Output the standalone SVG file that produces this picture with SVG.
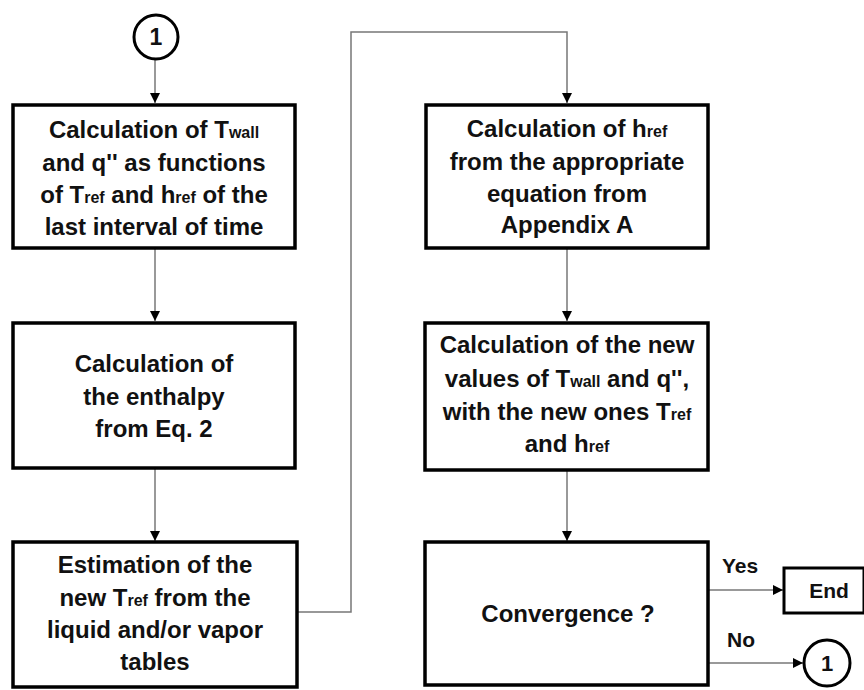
<svg xmlns="http://www.w3.org/2000/svg" width="864" height="690" viewBox="0 0 864 690">
<style>
.box{fill:#fff;stroke:#000;stroke-width:3.5}
.circ{fill:#fff;stroke:#000;stroke-width:3}
.t{font-family:"Liberation Sans",Arial,sans-serif;font-weight:bold;font-size:24px;fill:#111;text-anchor:middle}
.s{font-size:16px}
.lbl{font-family:"Liberation Sans",Arial,sans-serif;font-weight:bold;font-size:21px;fill:#111}
.c{fill:none;stroke:#777;stroke-width:1.5}
</style>
<defs>
<marker id="ah" viewBox="0 0 10 10" refX="10" refY="5" markerWidth="11" markerHeight="10" markerUnits="userSpaceOnUse" orient="auto">
<path d="M0,0 L10,5 L0,10 z" fill="#000"/>
</marker>
</defs>
<g id="connectors">
<line class="c" x1="155" y1="60" x2="155" y2="103" marker-end="url(#ah)"/>
<line class="c" x1="155" y1="248" x2="155" y2="321" marker-end="url(#ah)"/>
<line class="c" x1="155" y1="468" x2="155" y2="541" marker-end="url(#ah)"/>
<polyline class="c" points="297,612 351,612 351,32 567,32 567,103" marker-end="url(#ah)"/>
<line class="c" x1="567" y1="248" x2="567" y2="321" marker-end="url(#ah)"/>
<line class="c" x1="567" y1="470" x2="567" y2="541" marker-end="url(#ah)"/>
<line class="c" x1="708" y1="590" x2="783" y2="590" marker-end="url(#ah)"/>
<line class="c" x1="708" y1="663" x2="803" y2="663" marker-end="url(#ah)"/>
<text class="lbl" x="722" y="573">Yes</text>
<text class="lbl" x="727" y="647">No</text>
</g>
<g id="start">
<circle class="circ" cx="156" cy="37" r="22"/>
<text class="t" x="156" y="45" style="font-size:23px">1</text>
</g>
<g id="box1">
<rect class="box" x="13" y="105" width="282" height="143"/>
<text class="t" x="154" y="138">Calculation of T<tspan class="s">wall</tspan></text>
<text class="t" x="154" y="171">and q'' as functions</text>
<text class="t" x="154" y="203">of T<tspan class="s">ref</tspan> and h<tspan class="s">ref</tspan> of the</text>
<text class="t" x="154" y="235">last interval of time</text>
</g>
<g id="box2">
<rect class="box" x="13" y="323" width="282" height="145"/>
<text class="t" x="154" y="372">Calculation of</text>
<text class="t" x="154" y="405">the enthalpy</text>
<text class="t" x="154" y="437">from Eq. 2</text>
</g>
<g id="box3">
<rect class="box" x="13" y="542" width="284" height="145"/>
<text class="t" x="155" y="573">Estimation of the</text>
<text class="t" x="155" y="606">new T<tspan class="s">ref</tspan> from the</text>
<text class="t" x="155" y="638">liquid and/or vapor</text>
<text class="t" x="155" y="670">tables</text>
</g>
<g id="box4">
<rect class="box" x="426" y="105" width="282" height="143"/>
<text class="t" x="567" y="137">Calculation of h<tspan class="s">ref</tspan></text>
<text class="t" x="567" y="170">from the appropriate</text>
<text class="t" x="567" y="202">equation from</text>
<text class="t" x="567" y="233">Appendix A</text>
</g>
<g id="box5">
<rect class="box" x="425" y="323" width="283" height="147"/>
<text class="t" x="567" y="353">Calculation of the new</text>
<text class="t" x="567" y="387">values of T<tspan class="s">wall</tspan> and q'',</text>
<text class="t" x="567" y="420">with the new ones T<tspan class="s">ref</tspan></text>
<text class="t" x="567" y="452">and h<tspan class="s">ref</tspan></text>
</g>
<g id="box6">
<rect class="box" x="425" y="542" width="283" height="143"/>
<text class="t" x="568" y="622">Convergence ?</text>
</g>
<g id="end">
<rect class="box" x="784" y="568" width="80" height="45" style="stroke-width:3"/>
<text class="lbl" x="829" y="598" text-anchor="middle">End</text>
</g>
<g id="loop">
<circle class="circ" cx="827" cy="663" r="23"/>
<text class="t" x="827" y="671" style="font-size:22px">1</text>
</g>
</svg>
